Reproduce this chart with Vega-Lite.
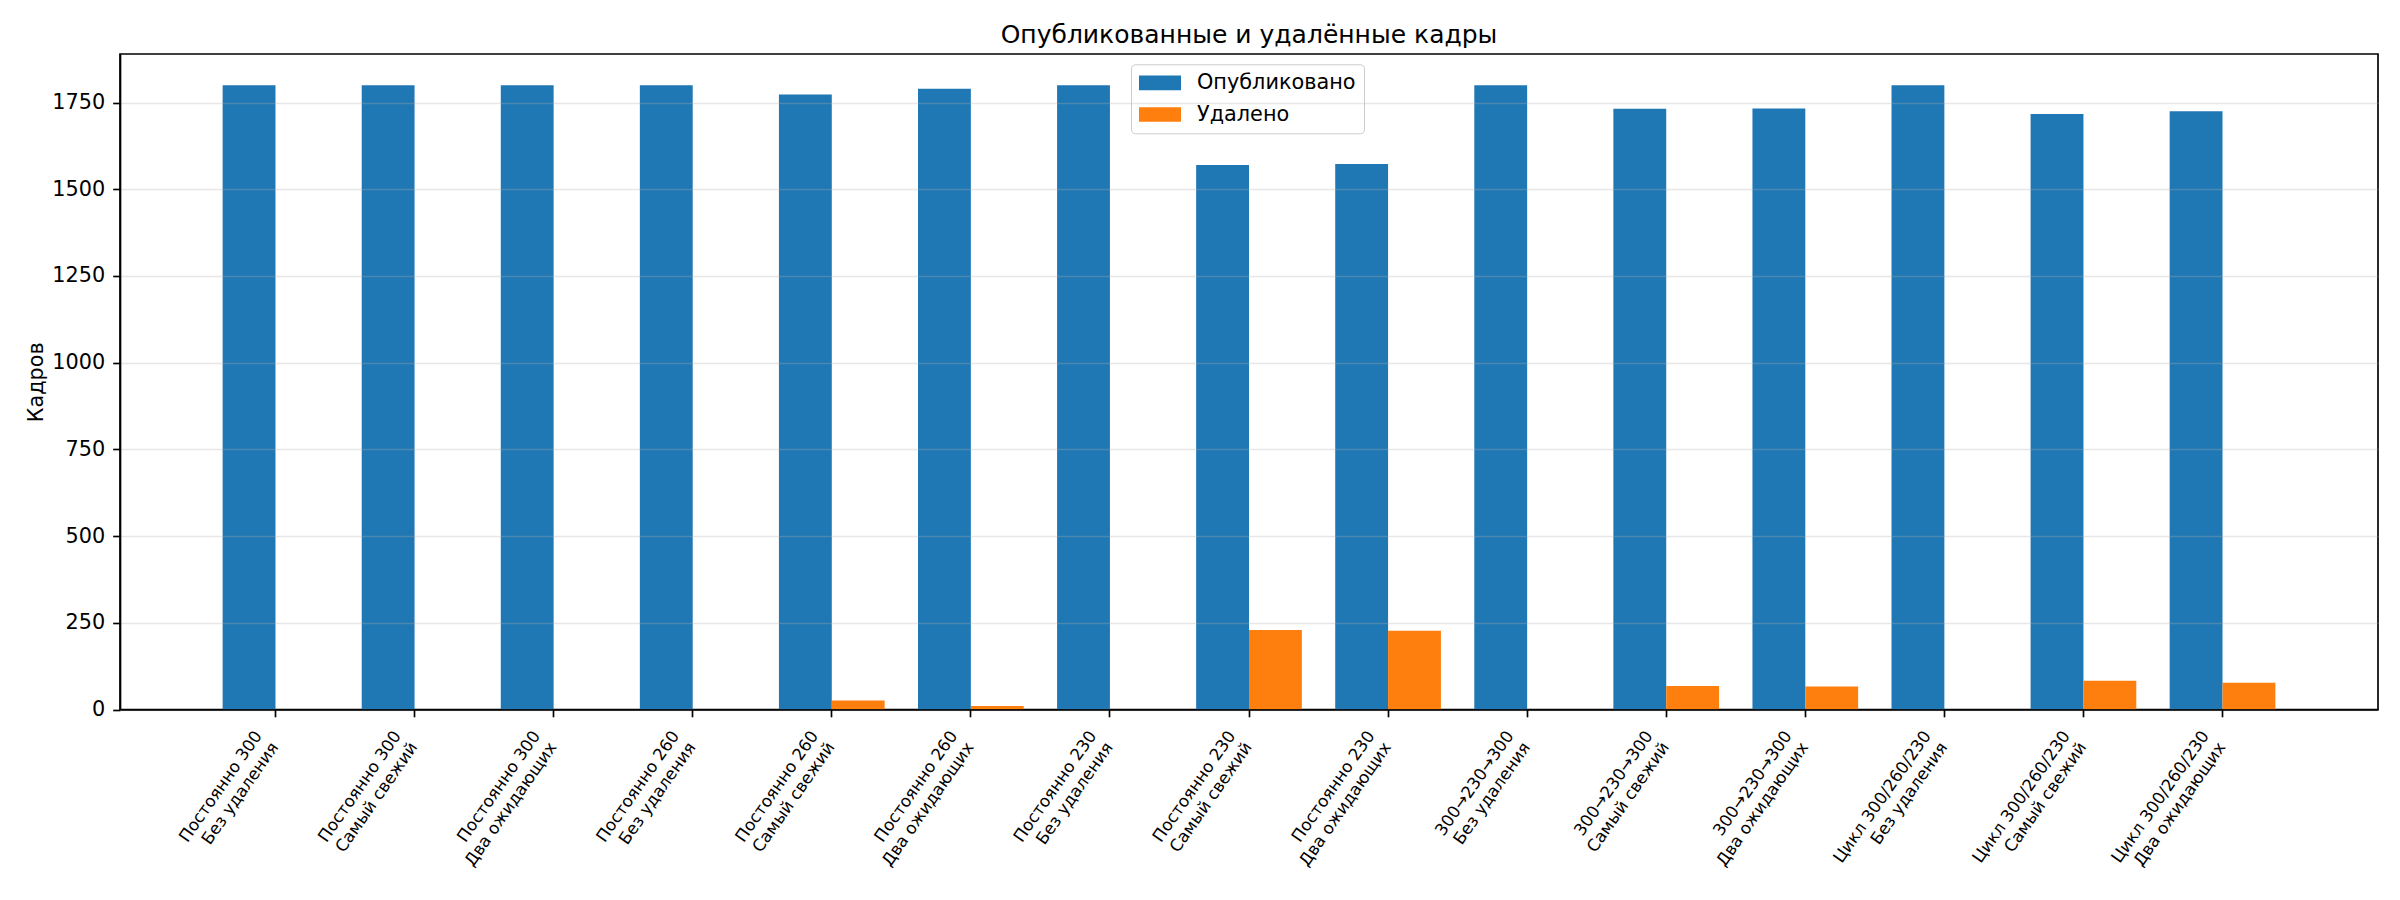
{
  "$schema": "https://vega.github.io/schema/vega-lite/v6.json",
  "width": 2258,
  "height": 655.5,
  "autosize": {"type": "none"},
  "padding": {"left": 120, "top": 54, "right": 22, "bottom": 190.5},
  "title": {
    "text": "Опубликованные и удалённые кадры",
    "anchor": "middle",
    "frame": "group",
    "fontSize": 25,
    "fontWeight": "normal",
    "color": "black",
    "baseline": "alphabetic",
    "offset": -13.7
  },
  "data": {
    "values": [
      {"label": "Постоянно 300|Без удаления", "series": "Опубликовано", "frames": 1800},
      {"label": "Постоянно 300|Без удаления", "series": "Удалено", "frames": 0},
      {"label": "Постоянно 300|Самый свежий", "series": "Опубликовано", "frames": 1800},
      {"label": "Постоянно 300|Самый свежий", "series": "Удалено", "frames": 0},
      {"label": "Постоянно 300|Два ожидающих", "series": "Опубликовано", "frames": 1800},
      {"label": "Постоянно 300|Два ожидающих", "series": "Удалено", "frames": 0},
      {"label": "Постоянно 260|Без удаления", "series": "Опубликовано", "frames": 1800},
      {"label": "Постоянно 260|Без удаления", "series": "Удалено", "frames": 0},
      {"label": "Постоянно 260|Самый свежий", "series": "Опубликовано", "frames": 1773},
      {"label": "Постоянно 260|Самый свежий", "series": "Удалено", "frames": 26},
      {"label": "Постоянно 260|Два ожидающих", "series": "Опубликовано", "frames": 1790},
      {"label": "Постоянно 260|Два ожидающих", "series": "Удалено", "frames": 10},
      {"label": "Постоянно 230|Без удаления", "series": "Опубликовано", "frames": 1800},
      {"label": "Постоянно 230|Без удаления", "series": "Удалено", "frames": 0},
      {"label": "Постоянно 230|Самый свежий", "series": "Опубликовано", "frames": 1570},
      {"label": "Постоянно 230|Самый свежий", "series": "Удалено", "frames": 229},
      {"label": "Постоянно 230|Два ожидающих", "series": "Опубликовано", "frames": 1573},
      {"label": "Постоянно 230|Два ожидающих", "series": "Удалено", "frames": 227},
      {"label": "300→230→300|Без удаления", "series": "Опубликовано", "frames": 1800},
      {"label": "300→230→300|Без удаления", "series": "Удалено", "frames": 0},
      {"label": "300→230→300|Самый свежий", "series": "Опубликовано", "frames": 1732},
      {"label": "300→230→300|Самый свежий", "series": "Удалено", "frames": 68},
      {"label": "300→230→300|Два ожидающих", "series": "Опубликовано", "frames": 1733},
      {"label": "300→230→300|Два ожидающих", "series": "Удалено", "frames": 66},
      {"label": "Цикл 300/260/230|Без удаления", "series": "Опубликовано", "frames": 1800},
      {"label": "Цикл 300/260/230|Без удаления", "series": "Удалено", "frames": 0},
      {"label": "Цикл 300/260/230|Самый свежий", "series": "Опубликовано", "frames": 1717},
      {"label": "Цикл 300/260/230|Самый свежий", "series": "Удалено", "frames": 83},
      {"label": "Цикл 300/260/230|Два ожидающих", "series": "Опубликовано", "frames": 1725},
      {"label": "Цикл 300/260/230|Два ожидающих", "series": "Удалено", "frames": 77}
    ]
  },
  "mark": "bar",
  "encoding": {
    "x": {
      "field": "label",
      "type": "nominal",
      "sort": null,
      "scale": {"paddingInner": 0.24, "paddingOuter": 0.738},
      "axis": {
        "title": null,
        "labelExpr": "split(datum.label, '|')",
        "labelAngle": -55,
        "labelAlign": "right",
        "labelBaseline": "top",
        "labelFontSize": 16.7,
        "labelLineHeight": 20,
        "labelOffset": -23.5,
        "labelPadding": 11,
        "labelLimit": 0,
        "labelOverlap": false,
        "labelColor": "black",
        "tickSize": 7.3,
        "tickWidth": 1.67,
        "tickColor": "black",
        "domainColor": "black",
        "domainWidth": 1.67,
        "grid": false,
        "zindex": 1
      }
    },
    "xOffset": {
      "field": "series",
      "type": "nominal",
      "sort": ["Опубликовано", "Удалено"],
      "scale": {"paddingInner": 0, "paddingOuter": 0}
    },
    "y": {
      "field": "frames",
      "type": "quantitative",
      "scale": {"domain": [0, 1890], "nice": false, "zero": true},
      "axis": {
        "title": "Кадров",
        "titleFontSize": 20.8,
        "titleFontWeight": "normal",
        "titleColor": "black",
        "titleX": -78,
        "titleY": 327.75,
        "titleAngle": -90,
        "titleBaseline": "alphabetic",
        "titleAlign": "center",
        "values": [0, 250, 500, 750, 1000, 1250, 1500, 1750],
        "format": "d",
        "labelFontSize": 20.8,
        "labelColor": "black",
        "labelPadding": 8,
        "tickSize": 7.3,
        "tickWidth": 1.67,
        "tickColor": "black",
        "domainColor": "black",
        "domainWidth": 1.67,
        "grid": true,
        "gridColor": "#b0b0b0",
        "gridOpacity": 0.3,
        "gridWidth": 1.67,
        "zindex": 1
      }
    },
    "color": {
      "field": "series",
      "type": "nominal",
      "scale": {
        "domain": ["Опубликовано", "Удалено"],
        "range": ["#1f77b4", "#ff7f0e"]
      },
      "legend": {
        "title": null,
        "orient": "none",
        "legendX": 1011,
        "legendY": 10.3,
        "symbolType": "M-1,-0.35H1V0.35H-1Z",
        "symbolSize": 1764,
        "symbolStrokeWidth": 0,
        "clipHeight": 21,
        "labelFontSize": 20.8,
        "labelColor": "black",
        "labelOffset": 16,
        "rowPadding": 9.7,
        "padding": 8,
        "strokeColor": "#cccccc",
        "cornerRadius": 4,
        "fillColor": "white"
      }
    }
  },
  "config": {
    "font": "DejaVu Sans",
    "view": {"stroke": "black", "strokeWidth": 1.67},
    "axis": {"labelFont": "DejaVu Sans", "titleFont": "DejaVu Sans"},
    "legend": {"labelFont": "DejaVu Sans"}
  }
}
